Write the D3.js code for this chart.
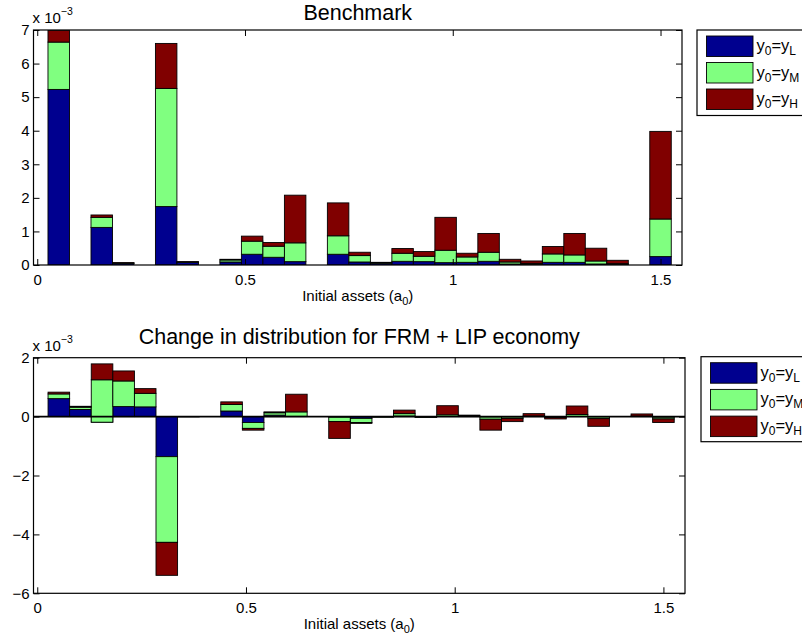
<!DOCTYPE html>
<html>
<head>
<meta charset="utf-8">
<script src="https://cdn.jsdelivr.net/npm/d3@7"></script>
<style>
  body { margin: 0; background: #fff; }
  svg { display: block; }
  text { font-family: "Liberation Sans", Arial, Helvetica, sans-serif; fill: #000; }
</style>
</head>
<body>
<svg id="fig" width="802" height="642"></svg>
<script>
// Asset grid (bin centres) shared by both panels
const assetGrid = [0, 0.0517, 0.1034, 0.1552, 0.2069, 0.2586, 0.3103, 0.3621, 0.4138, 0.4655,
  0.5172, 0.5690, 0.6207, 0.6724, 0.7241, 0.7759, 0.8276, 0.8793, 0.9310, 0.9828,
  1.0345, 1.0862, 1.1379, 1.1897, 1.2414, 1.2931, 1.3448, 1.3966, 1.4483, 1.5000];

// Benchmark distribution (x 10^-3), by initial income state
const benchLow  = [0, 5.23, 0, 1.12, 0.05, 0, 1.74, 0.08, 0, 0.09, 0.32, 0.23, 0.10, 0, 0.32,
  0.09, 0.05, 0.11, 0.10, 0.07, 0.08, 0.11, 0.03, 0.02, 0.08, 0.08, 0.03, 0.01, 0, 0.25];
const benchMid  = [0, 1.41, 0, 0.30, 0.01, 0, 3.52, 0.01, 0, 0.06, 0.39, 0.33, 0.56, 0, 0.55,
  0.19, 0.02, 0.24, 0.16, 0.37, 0.16, 0.27, 0.06, 0.03, 0.25, 0.22, 0.09, 0.03, 0, 1.12];
const benchHigh = [0, 0.35, 0, 0.07, 0.01, 0, 1.34, 0.01, 0, 0.02, 0.15, 0.11, 1.42, 0, 0.98,
  0.10, 0.01, 0.14, 0.14, 0.98, 0.11, 0.56, 0.08, 0.07, 0.22, 0.64, 0.38, 0.10, 0, 2.61];

// Change in distribution, FRM + LIP economy (x 10^-3)
const chgLow  = [0, 0.61, 0.24, -0.19, 0.34, 0.33, -1.36, -0.01, 0, 0.19, -0.20, 0.05, 0.01, 0, -0.02,
  -0.06, -0.01, 0.02, -0.01, 0.00, 0.01, -0.01, -0.01, 0.00, -0.01, 0.01, -0.01, 0, 0, -0.02];
const chgMid  = [0, 0.16, 0.08, 1.44, 0.87, 0.46, -2.91, 0, 0, 0.22, -0.20, 0.08, 0.15, 0, -0.15,
  -0.14, -0.01, 0.08, -0.02, 0.06, 0.01, -0.08, -0.05, 0.02, -0.02, 0.06, -0.06, 0, 0.02, -0.06];
const chgHigh = [0, 0.06, 0.03, 0.54, 0.34, 0.16, -1.12, 0, 0, 0.09, -0.06, 0.03, 0.60, 0, -0.57,
  -0.03, 0, 0.12, 0, 0.31, 0.03, -0.37, -0.11, 0.08, -0.05, 0.29, -0.26, 0, 0.07, -0.12];

const seriesKeys = ["low", "mid", "high"];
const seriesSubs = ["L", "M", "H"];
const seriesColors = ["#00008f", "#80ff80", "#800000"];

const xTicks = [0, 0.5, 1, 1.5];
const xTickLabels = ["0", "0.5", "1", "1.5"];
const benchTicks = [0, 1, 2, 3, 4, 5, 6, 7];
const benchTickLabels = ["0", "1", "2", "3", "4", "5", "6", "7"];
const chgTicks = [-6, -4, -2, 0, 2];
const chgTickLabels = ["\u22126", "\u22124", "\u22122", "0", "2"];

const svg = d3.select("#fig");
const font = '"Liberation Sans", Arial, Helvetica, sans-serif';

function drawPanel(cfg) {
  const { id, left, right, top, bottom, yDomain, yTicks, yLabels, title, titleY, low, mid, high, legend, baseline } = cfg;
  const x = d3.scaleLinear().domain([-0.009, 1.5517]).range([left, right]);
  const y = d3.scaleLinear().domain(yDomain).range([bottom, top]);
  const w = assetGrid[1] - assetGrid[0];

  const rows = assetGrid.map((c, i) => ({ c, low: low[i], mid: mid[i], high: high[i] }));
  const stacked = d3.stack().keys(seriesKeys).offset(d3.stackOffsetNone)(rows);

  const g = svg.append("g");
  g.append("clipPath").attr("id", "clip-" + id)
    .append("rect").attr("x", left).attr("y", top).attr("width", right - left).attr("height", bottom - top);

  const plot = g.append("g").attr("clip-path", `url(#clip-${id})`);
  stacked.forEach((s, k) => {
    plot.append("g").selectAll("rect").data(s).join("rect")
      .attr("x", d => x(d.data.c - w / 2))
      .attr("width", d => x(d.data.c + w / 2) - x(d.data.c - w / 2))
      .attr("y", d => Math.min(y(d[0]), y(d[1])))
      .attr("height", d => Math.abs(y(d[0]) - y(d[1])))
      .attr("fill", seriesColors[k])
      .attr("stroke", "#000")
      .attr("stroke-width", 0.9);
  });

  if (baseline) {
    g.append("line").attr("x1", left).attr("x2", right)
      .attr("y1", y(0)).attr("y2", y(0))
      .attr("stroke", "#000").attr("stroke-width", 1.6);
  }

  // axes with inward ticks on all four sides
  const tickLen = 6;
  const axB = g.append("g").attr("transform", `translate(0,${bottom})`)
    .call(d3.axisBottom(x).tickValues(xTicks).tickFormat((d, i) => xTickLabels[i])
      .tickSizeInner(-tickLen).tickSizeOuter(0).tickPadding(9));
  const axT = g.append("g").attr("transform", `translate(0,${top})`)
    .call(d3.axisTop(x).tickValues(xTicks).tickFormat("").tickSizeInner(-tickLen).tickSizeOuter(0));
  const axL = g.append("g").attr("transform", `translate(${left},0)`)
    .call(d3.axisLeft(y).tickValues(yTicks).tickFormat((d, i) => yLabels[i])
      .tickSizeInner(-tickLen).tickSizeOuter(0).tickPadding(4));
  const axR = g.append("g").attr("transform", `translate(${right},0)`)
    .call(d3.axisRight(y).tickValues(yTicks).tickFormat("").tickSizeInner(-tickLen).tickSizeOuter(0));
  [axB, axT, axL, axR].forEach(a => {
    a.select(".domain").remove();
    a.selectAll("line").attr("stroke", "#000").attr("stroke-width", 1);
    a.selectAll("text").attr("font-family", font).attr("font-size", 15).attr("fill", "#000");
  });

  g.append("rect").attr("x", left).attr("y", top)
    .attr("width", right - left).attr("height", bottom - top)
    .attr("fill", "none").attr("stroke", "#000").attr("stroke-width", 1.2);

  // title
  g.append("text").attr("x", (left + right) / 2).attr("y", titleY)
    .attr("text-anchor", "middle").attr("font-size", 21.5).text(title);

  // exponent note
  const ex = g.append("text").attr("x", left - 1).attr("y", top - 7).attr("font-size", 15);
  ex.append("tspan").text("x 10");
  ex.append("tspan").attr("font-size", 10.5).attr("dy", -8).text("\u22123");

  // x label
  const xl = g.append("text").attr("x", (left + right) / 2).attr("y", bottom + 36)
    .attr("text-anchor", "middle").attr("font-size", 15);
  xl.append("tspan").text("Initial assets (a");
  xl.append("tspan").attr("font-size", 11).attr("dy", 4).text("0");
  xl.append("tspan").attr("dy", -4).text(")");

  // legend
  const lg = g.append("g");
  lg.append("rect").attr("x", legend.x).attr("y", legend.y)
    .attr("width", 130).attr("height", legend.h)
    .attr("fill", "#fff").attr("stroke", "#000").attr("stroke-width", 1.2);
  seriesKeys.forEach((key, k) => {
    const ry = legend.y + legend.pad + k * legend.step;
    lg.append("rect").attr("x", legend.x + legend.sx).attr("y", ry)
      .attr("width", 46.5).attr("height", 20.5)
      .attr("fill", seriesColors[k]).attr("stroke", "#000").attr("stroke-width", 0.9);
    const t = lg.append("text").attr("x", legend.x + legend.sx + 50).attr("y", ry + 15)
      .attr("font-size", 16.5);
    t.append("tspan").text("y");
    t.append("tspan").attr("font-size", 12).attr("dy", 4).text("0");
    t.append("tspan").attr("dy", -4).text("=y");
    t.append("tspan").attr("font-size", 12).attr("dy", 4).text(seriesSubs[k]);
  });
}

drawPanel({
  id: "bench", left: 33.5, right: 682, top: 30, bottom: 265, titleY: 19.5,
  yDomain: [0, 7], yTicks: benchTicks, yLabels: benchTickLabels,
  title: "Benchmark", low: benchLow, mid: benchMid, high: benchHigh,
  legend: { x: 697, y: 30, h: 85.5, sx: 9.5, pad: 6, step: 26.5 },
  baseline: false
});

drawPanel({
  id: "chg", left: 33.5, right: 685, top: 357.7, bottom: 593.3, titleY: 344,
  yDomain: [-6, 2], yTicks: chgTicks, yLabels: chgTickLabels,
  title: "Change in distribution for FRM + LIP economy", low: chgLow, mid: chgMid, high: chgHigh,
  legend: { x: 701, y: 356.7, h: 85, sx: 9.5, pad: 6, step: 26.7 },
  baseline: true
});
</script>
</body>
</html>
